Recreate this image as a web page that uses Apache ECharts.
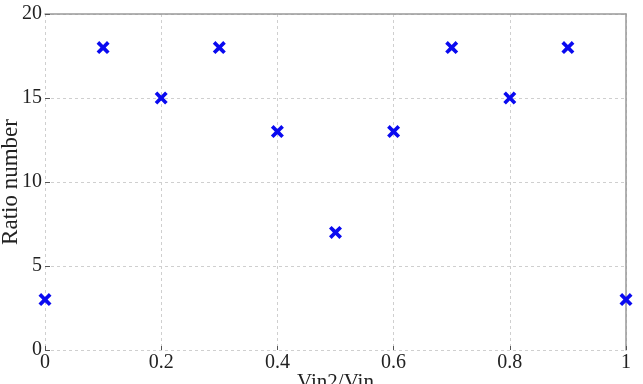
<!DOCTYPE html>
<html lang="en">
<head>
    <meta charset="UTF-8">
    <title>Ratio number</title>
    <script src="https://cdn.jsdelivr.net/npm/echarts@6/dist/echarts.min.js"></script>
    <style>
        html, body { margin: 0; padding: 0; background: #fff; }
    </style>
</head>
<body>
<div id="main" style="width: 643px;height: 384px"></div>
</body>
<script>
    // data
    var xValues = [0, 0.1, 0.2, 0.3, 0.4, 0.5, 0.6, 0.7, 0.8, 0.9, 1];
    var ratioValues = [3, 18, 15, 18, 13, 7, 13, 18, 15, 18, 3];
    var xTicks = [0, 0.2, 0.4, 0.6, 0.8, 1];
    var yTicks = [0, 5, 10, 15, 20];

    var points = xValues.map(function (x, i) { return [x, ratioValues[i]]; });
    var font = '"Liberation Serif", "DejaVu Serif", serif';
    var crossPath = 'path://M0,2 L2,0 L5,3 L8,0 L10,2 L7,5 L10,8 L8,10 L5,7 L2,10 L0,8 L3,5 Z';

    var MyChart = echarts.init(document.getElementById("main"));
    var option = {
        backgroundColor: '#fff',
        animation: false,
        grid: { left: 45, right: 17, top: 14, bottom: 34, outerBoundsMode: 'none', containLabel: false },
        xAxis: [{
            type: 'value',
            min: xTicks[0],
            max: xTicks[xTicks.length - 1],
            interval: 0.2,
            name: 'Vin2/Vin',
            nameLocation: 'middle',
            nameGap: 22,
            nameMoveOverlap: false,
            nameTextStyle: { fontFamily: font, fontSize: 21, color: '#222' },
            axisLine: { show: false },
            axisTick: { show: true, inside: true, length: 4, lineStyle: { color: '#555' } },
            axisLabel: { fontFamily: font, fontSize: 20, color: '#222', margin: 3 },
            splitLine: { show: true, lineStyle: { type: [3, 3], color: '#cfcfcf' } }
        }, {
            type: 'value',
            position: 'top',
            min: 0, max: 1,
            axisLine: { show: true, onZero: false, lineStyle: { color: '#999', width: 1.5 } },
            axisTick: { show: false },
            axisLabel: { show: false },
            splitLine: { show: false }
        }],
        yAxis: [{
            type: 'value',
            min: yTicks[0],
            max: yTicks[yTicks.length - 1],
            interval: 5,
            name: 'Ratio number',
            nameLocation: 'middle',
            nameGap: 23,
            nameMoveOverlap: false,
            nameTextStyle: { fontFamily: font, fontSize: 23, color: '#222' },
            axisLine: { show: false },
            axisTick: { show: true, inside: true, length: 5, lineStyle: { color: '#555' } },
            axisLabel: { fontFamily: font, fontSize: 20, color: '#222', margin: 3 },
            splitLine: { show: true, lineStyle: { type: [3, 3], color: '#cfcfcf' } }
        }, {
            type: 'value',
            position: 'right',
            min: 0, max: 20,
            axisLine: { show: true, onZero: false, lineStyle: { color: '#999', width: 1.5 } },
            axisTick: { show: false },
            axisLabel: { show: false },
            splitLine: { show: false }
        }],
        series: [{
            type: 'scatter',
            xAxisIndex: 0,
            yAxisIndex: 0,
            data: points,
            symbol: crossPath,
            symbolSize: 13,
            itemStyle: { color: '#0a0af0', opacity: 1 }
        }]
    };
    MyChart.setOption(option);
</script>
</html>
